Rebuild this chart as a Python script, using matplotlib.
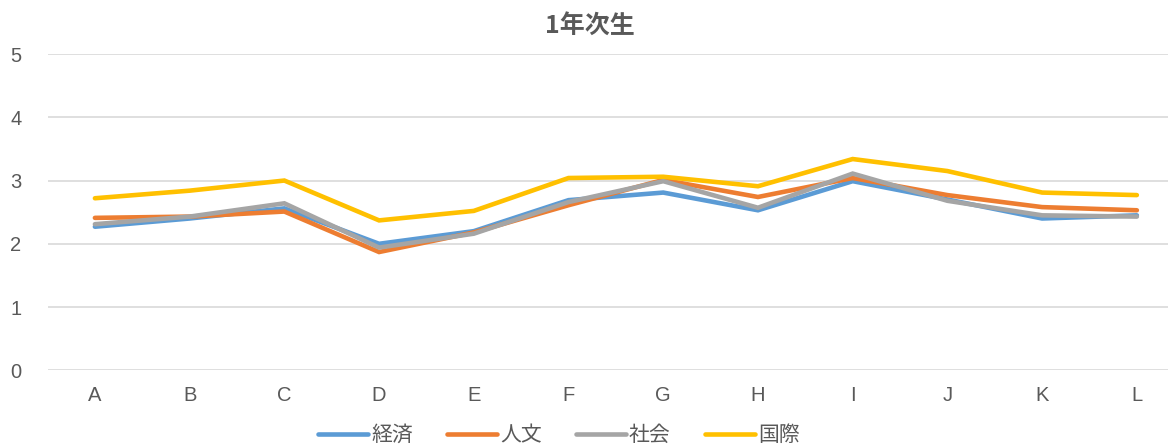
import matplotlib
matplotlib.use("Agg")
import matplotlib.pyplot as plt

plt.rcParams["font.family"] = ["Noto Sans CJK JP", "DejaVu Sans"]

categories = ["A", "B", "C", "D", "E", "F", "G", "H", "I", "J", "K", "L"]
keizai = [2.27, 2.40, 2.56, 2.00, 2.20, 2.69, 2.81, 2.53, 2.99, 2.70, 2.40, 2.45]
jinbun = [2.41, 2.43, 2.51, 1.87, 2.18, 2.61, 3.01, 2.74, 3.04, 2.77, 2.58, 2.53]
shakai = [2.31, 2.43, 2.64, 1.94, 2.16, 2.66, 2.99, 2.57, 3.11, 2.68, 2.45, 2.43]
kokusai = [2.72, 2.84, 3.00, 2.37, 2.52, 3.04, 3.06, 2.91, 3.34, 3.15, 2.81, 2.77]

series = [
    ("経済", keizai, "#5b9bd5"),
    ("人文", jinbun, "#ed7d31"),
    ("社会", shakai, "#a5a5a5"),
    ("国際", kokusai, "#ffc000"),
]

TEXT = "#595959"

fig = plt.figure(figsize=(11.69, 4.48), dpi=100)
ax = fig.add_axes([0.041, 0.1734, 0.958, 0.706])

x = range(len(categories))
for name, vals, color in series:
    ax.plot(x, vals, color=color, linewidth=3.3, label=name,
            solid_capstyle="round", solid_joinstyle="miter")

ax.set_xlim(-0.496, 11.327)
ax.set_ylim(0, 5)
ax.set_yticks(range(6))
ax.set_xticks(list(x))
ax.set_xticklabels(categories)
ax.grid(axis="y", color="#d9d9d9", linewidth=1.2)
ax.set_axisbelow(True)
for s in ax.spines.values():
    s.set_visible(False)
ax.tick_params(length=0, labelsize=14.5, colors=TEXT)
ax.tick_params(axis="y", pad=19)
ax.tick_params(axis="x", pad=11)
for lbl in ax.get_xticklabels() + ax.get_yticklabels():
    lbl.set_fontfamily("Liberation Sans")

fig.text(0.505, 0.942, "1年次生", ha="center", va="center",
         fontsize=18, fontweight="bold", color=TEXT)

fig.legend(loc="center", bbox_to_anchor=(0.478, 0.029),
           bbox_transform=fig.transFigure, ncol=4, frameon=False,
           fontsize=15, handlelength=2.4, handletextpad=0.15,
           columnspacing=1.63, labelcolor=TEXT, borderpad=0)

fig.savefig("out.png", dpi=100)
